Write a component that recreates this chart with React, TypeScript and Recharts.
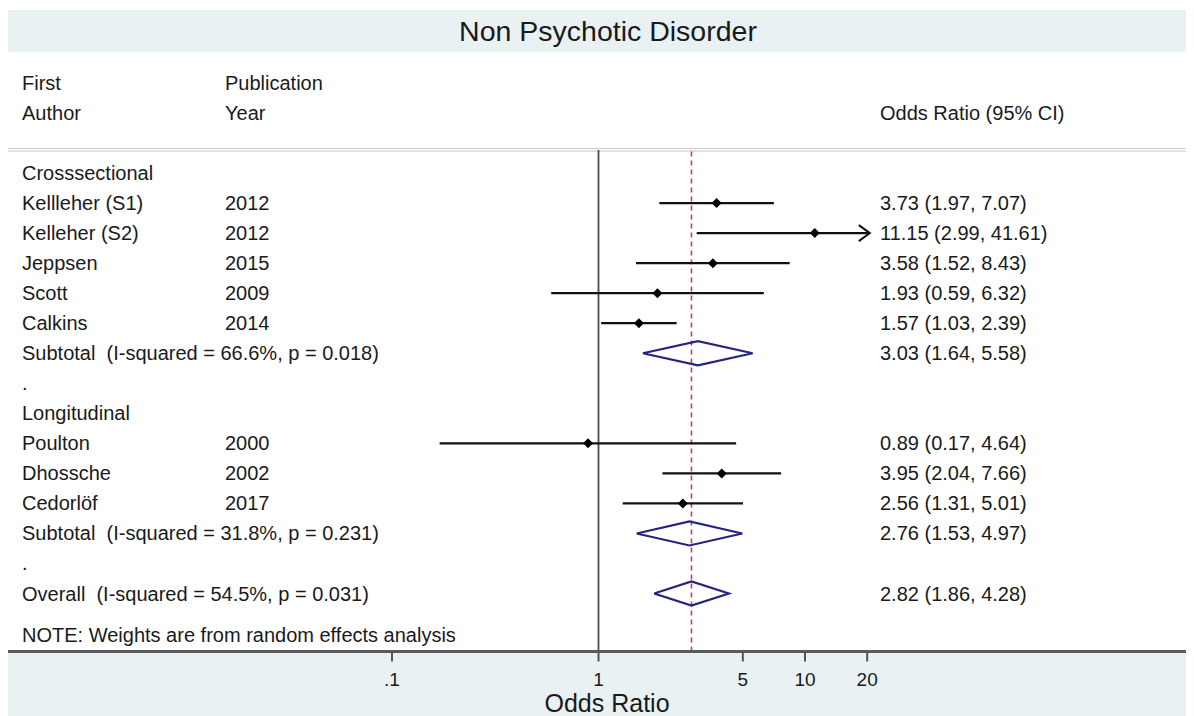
import React from "react";
import { ComposedChart, XAxis, YAxis, Scatter, ReferenceLine } from "recharts";

const labels = [
  "Crosssectional",
  "Kellleher (S1)",
  "Kelleher (S2)",
  "Jeppsen",
  "Scott",
  "Calkins",
  "Subtotal  (I-squared = 66.6%, p = 0.018)",
  ".",
  "Longitudinal",
  "Poulton",
  "Dhossche",
  "Cedorlöf",
  "Subtotal  (I-squared = 31.8%, p = 0.231)",
  ".",
  "Overall  (I-squared = 54.5%, p = 0.031)",
  "NOTE: Weights are from random effects analysis",
];
const years = ["", "2012", "2012", "2015", "2009", "2014", "", "", "", "2000", "2002", "2017", "", "", "", ""];
const kinds = ["head", "study", "study", "study", "study", "study", "pooled", "blank", "head", "study", "study", "study", "pooled", "blank", "pooled", "note"];
const estimates = [null, 3.73, 11.15, 3.58, 1.93, 1.57, 3.03, null, null, 0.89, 3.95, 2.56, 2.76, null, 2.82, null];
const lower = [null, 1.97, 2.99, 1.52, 0.59, 1.03, 1.64, null, null, 0.17, 2.04, 1.31, 1.53, null, 1.86, null];
const upper = [null, 7.07, 41.61, 8.43, 6.32, 2.39, 5.58, null, null, 4.64, 7.66, 5.01, 4.97, null, 4.28, null];

const tickValues = [0.1, 1, 5, 10, 20];
const tickLabels = [".1", "1", "5", "10", "20"];
const overallEstimate = 2.82;
const clipMax = 20.6;

const FONT = "'Liberation Sans', Arial, sans-serif";
const TEXT = "#1a1a1a";
const BAND = "#e9f1f3";
const X_DOMAIN = [-2.8596, 2.8838];
const ROW_FONT = 20;

const lg = (v: number) => Math.log10(v);
const rowOf = (i: number) => (kinds[i] === "note" ? i + 0.37 : i);

const fmt = (i: number) =>
  `${estimates[i]!.toFixed(2)} (${lower[i]!.toFixed(2)}, ${upper[i]!.toFixed(2)})`;

// row text is anchored on the y scale through an invisible scatter point per row
const textData = labels.map((_, i) => ({ x: X_DOMAIN[0], y: rowOf(i), i }));

function RowText(p: any) {
  const i = p.payload?.i ?? p.i;
  const y = p.cy;
  const style = { fontFamily: FONT, fontSize: ROW_FONT, fill: TEXT, whiteSpace: "pre" as const };
  return (
    <g>
      <text x={14} y={y} dominantBaseline="central" style={style}>
        {labels[i]}
      </text>
      {years[i] && (
        <text x={217} y={y} dominantBaseline="central" style={style}>
          {years[i]}
        </text>
      )}
      {estimates[i] != null && (
        <text x={872} y={y} dominantBaseline="central" style={style}>
          {fmt(i)}
        </text>
      )}
    </g>
  );
}

const PointMark = (p: any) => (
  <path d={`M${p.cx - 5},${p.cy} L${p.cx},${p.cy - 5} L${p.cx + 5},${p.cy} L${p.cx},${p.cy + 5} Z`} fill="#000" />
);
const ArrowMark = (p: any) => (
  <path d={`M${p.cx - 11},${p.cy - 8} L${p.cx},${p.cy} L${p.cx - 11},${p.cy + 8}`} fill="none" stroke="#111" strokeWidth={2} />
);
const NoMark = () => <g />;

const studyRows = labels.map((_, i) => i).filter((i) => kinds[i] === "study");
const pooledRows = labels.map((_, i) => i).filter((i) => kinds[i] === "pooled");

const pointData = studyRows.map((i) => ({ x: lg(estimates[i]!), y: rowOf(i) }));
const arrowData = studyRows.filter((i) => upper[i]! > clipMax).map((i) => ({ x: lg(clipMax), y: rowOf(i) }));

const diamondData = (i: number) => {
  const r = rowOf(i);
  return [
    { x: lg(lower[i]!), y: r },
    { x: lg(estimates[i]!), y: r - 0.4 },
    { x: lg(upper[i]!), y: r },
    { x: lg(estimates[i]!), y: r + 0.4 },
    { x: lg(lower[i]!), y: r },
  ];
};

const headText = (text: string, left: number, cy: number, size = ROW_FONT) => (
  <div
    style={{
      position: "absolute",
      left,
      top: cy,
      transform: "translateY(-50%)",
      fontSize: size,
      lineHeight: 1.15,
      color: TEXT,
      whiteSpace: "pre",
    }}
  >
    {text}
  </div>
);

export default function App() {
  return (
    <div style={{ position: "relative", width: 1186, height: 708, fontFamily: FONT, overflow: "hidden" }}>
      <div style={{ position: "absolute", left: 0, top: 2, width: 1186, height: 42, background: BAND }} />
      <div style={{ position: "absolute", left: 0, top: 645, width: 1186, height: 63, background: BAND }} />
      <div style={{ position: "absolute", left: 0, top: 140, width: 1186, height: 1, borderTop: "1px solid #c9c9c9", borderBottom: "2px solid #e2e2e2" }} />
      <div
        style={{
          position: "absolute",
          left: 0,
          width: 1200,
          top: 23,
          transform: "translateY(-50%)",
          textAlign: "center",
          fontSize: 28.5,
          color: TEXT,
        }}
      >
        Non Psychotic Disorder
      </div>
      {headText("First", 14, 75)}
      {headText("Publication", 217, 75)}
      {headText("Author", 14, 105)}
      {headText("Year", 217, 105)}
      {headText("Odds Ratio (95% CI)", 872, 105)}
      <div style={{ position: "absolute", left: 0, top: 0 }}>
        <ComposedChart width={1186} height={708} margin={{ top: 142, right: 0, bottom: 0, left: 0 }}>
          <XAxis
            type="number"
            dataKey="x"
            domain={X_DOMAIN}
            ticks={tickValues.map(lg)}
            interval={0}
            tickFormatter={(v: number) => tickLabels[tickValues.findIndex((t) => Math.abs(lg(t) - v) < 1e-6)] ?? ""}
            height={64.5}
            tickSize={10}
            tickMargin={11}
            tick={{ fill: TEXT, fontSize: 19, fontFamily: FONT }}
            tickLine={{ stroke: "#555", strokeWidth: 2 }}
            axisLine={{ stroke: "#5a5a5a", strokeWidth: 3 }}
            allowDataOverflow
            label={{
              content: ({ viewBox }: any) => (
                <text
                  x={viewBox.x + viewBox.width / 2 + 6}
                  y={viewBox.y + viewBox.height - 4}
                  textAnchor="middle"
                  style={{ fontFamily: FONT, fontSize: 25, fill: TEXT }}
                >
                  Odds Ratio
                </text>
              ),
            }}
          />
          <YAxis type="number" dataKey="y" domain={[-0.767, 15.93]} reversed hide allowDataOverflow />
          <ReferenceLine x={0} stroke="#4d4d4d" strokeWidth={1.8} />
          <ReferenceLine x={lg(overallEstimate)} stroke="#b5446a" strokeWidth={1.6} strokeDasharray="5 4" />
          {studyRows.map((i) => (
            <ReferenceLine
              key={`ci-${i}`}
              segment={[
                { x: lg(lower[i]!), y: rowOf(i) },
                { x: lg(Math.min(upper[i]!, clipMax)), y: rowOf(i) },
              ]}
              stroke="#111"
              strokeWidth={2.2}
            />
          ))}
          {pooledRows.map((i) => (
            <Scatter
              key={`dm-${i}`}
              data={diamondData(i)}
              line={{ stroke: "#25257f", strokeWidth: 2.2 }}
              lineJointType="linear"
              shape={<NoMark />}
              isAnimationActive={false}
            />
          ))}
          <Scatter data={pointData} shape={<PointMark />} isAnimationActive={false} />
          <Scatter data={arrowData} shape={<ArrowMark />} isAnimationActive={false} />
          <Scatter data={textData} shape={<RowText />} isAnimationActive={false} />
        </ComposedChart>
      </div>
    </div>
  );
}
